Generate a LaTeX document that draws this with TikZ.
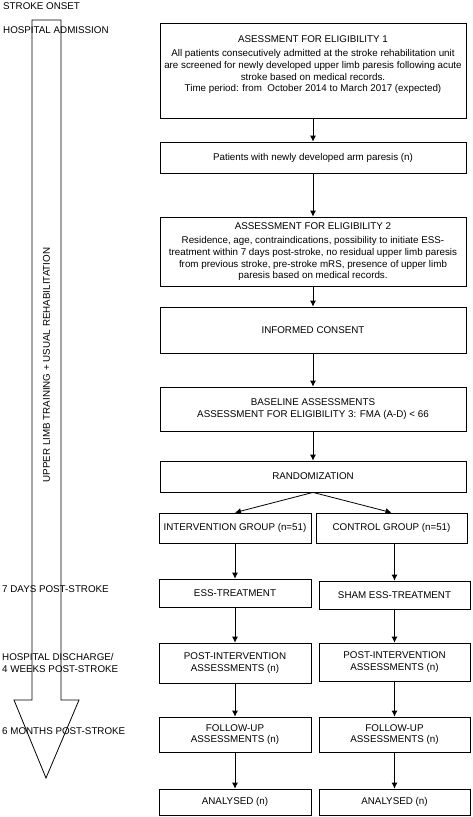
\documentclass[tikz,border=0pt]{standalone}
\usepackage{fontspec}
\setmainfont{Liberation Sans}
\usetikzlibrary{arrows.meta}

\tikzset{
  box/.style={draw=black,line width=0.8pt,align=center,inner sep=0pt,
    font=\fontsize{9.8}{11.6}\selectfont},
  txt/.style={align=center,inner sep=0pt,
    font=\fontsize{9.8}{11.6}\selectfont},
  lbl/.style={anchor=west,inner sep=0pt,align=left,
    font=\fontsize{9.8}{11.6}\selectfont},
  arr/.style={draw=black,line width=0.8pt,-{Latex[length=6pt,width=6pt]}},
}

\begin{document}
\begin{tikzpicture}[x=1pt,y=-1pt]

\useasboundingbox (0,0) rectangle (472,817);

%time line
\path[draw=black,line width=0.8pt] (32,20) -- (61,20) -- (61,700) -- (79,700)
  -- (46,778) -- (14,700) -- (32,700) -- cycle;
\node[lbl,anchor=center,rotate=90] (rehab) at (46.5,365) {UPPER LIMB TRAINING + USUAL REHABILITATION};

\node[lbl] (onset) at (3,6) {STROKE ONSET};
\node[lbl] (admit) at (3,30) {HOSPITAL ADMISSION};
\node[lbl] (day7) at (2,589) {7 DAYS POST-STROKE};
\node[lbl] (disch) at (2,663) {HOSPITAL DISCHARGE/\\4 WEEKS POST-STROKE};
\node[lbl] (month6) at (2,731) {6 MONTHS POST-STROKE};

%screening
\node[box,minimum width=306,minimum height=95] (elig1) at (313,70.5) {};
\node[txt] (elig1txt) at (313,64.5)
  {ASESSMENT FOR ELIGIBILITY 1\\[3pt]
   All patients consecutively admitted at the stroke rehabilitation unit\\
   are screened for newly developed upper limb paresis following acute\\
   stroke based on medical records.\\
   Time period: from\ \ October 2014 to March 2017 (expected)};
\node[box,minimum width=306,minimum height=31] (paresis) at (313,157.5)
  {Patients with newly developed arm paresis (n)};
\node[box,minimum width=306,minimum height=69] (elig2) at (313,251.5)
  {ASSESSMENT FOR ELIGIBILITY 2\\[3pt]
   Residence, age, contraindications, possibility to initiate ESS-\\
   treatment within 7 days post-stroke, no residual upper limb paresis\\
   from previous stroke, pre-stroke mRS, presence of upper limb\\
   paresis based on medical records.};
\node[box,minimum width=306,minimum height=46] (consent) at (313,330)
  {INFORMED CONSENT};
\node[box,minimum width=306,minimum height=44] (baseline) at (313,409)
  {BASELINE ASSESSMENTS\\[1pt]
   ASSESSMENT FOR ELIGIBILITY 3: FMA (A-D) < 66};
\node[box,minimum width=306,minimum height=31] (random) at (313,476.5)
  {RANDOMIZATION};

\draw[arr] (elig1.south) -- (paresis.north);
\draw[arr] (paresis.south) -- (elig2.north);
\draw[arr] (elig2.south) -- (consent.north);
\draw[arr] (consent.south) -- (baseline.north);
\draw[arr] (baseline.south) -- (random.north);

%intervention
\node[box,minimum width=152,minimum height=30] (intgrp) at (235,528)
  {INTERVENTION GROUP (n=51)};
\node[box,minimum width=152,minimum height=28] (ess) at (235,593)
  {ESS-TREATMENT};
\node[box,minimum width=152,minimum height=40] (postint) at (235,663)
  {POST-INTERVENTION\\ASSESSMENTS (n)};
\node[box,minimum width=152,minimum height=35] (fuint) at (235,734.5)
  {FOLLOW-UP\\ASSESSMENTS (n)};
\node[box,minimum width=152,minimum height=26] (anint) at (235,802)
  {ANALYSED (n)};

%control
\node[box,minimum width=151,minimum height=30] (ctrlgrp) at (391.5,528)
  {CONTROL GROUP (n=51)};
\node[box,minimum width=151,minimum height=28] (sham) at (394.5,595)
  {SHAM ESS-TREATMENT};
\node[box,minimum width=151,minimum height=38] (postctrl) at (394.5,662)
  {POST-INTERVENTION\\ASSESSMENTS (n)};
\node[box,minimum width=151,minimum height=35] (fuctrl) at (394.5,734.5)
  {FOLLOW-UP\\ASSESSMENTS (n)};
\node[box,minimum width=151,minimum height=26] (anctrl) at (394.5,802)
  {ANALYSED (n)};

\draw[arr] (random.south) -- (intgrp.north);
\draw[arr] (random.south) -- (ctrlgrp.north);

\draw[arr] (intgrp.south) -- (ess.north);
\draw[arr] (ess.south) -- (postint.north);
\draw[arr] (postint.south) -- (fuint.north);
\draw[arr] (fuint.south) -- (anint.north);

\draw[arr] (sham.north |- ctrlgrp.south) -- (sham.north);
\draw[arr] (sham.south) -- (postctrl.north);
\draw[arr] (postctrl.south) -- (fuctrl.north);
\draw[arr] (fuctrl.south) -- (anctrl.north);

\end{tikzpicture}
\end{document}
